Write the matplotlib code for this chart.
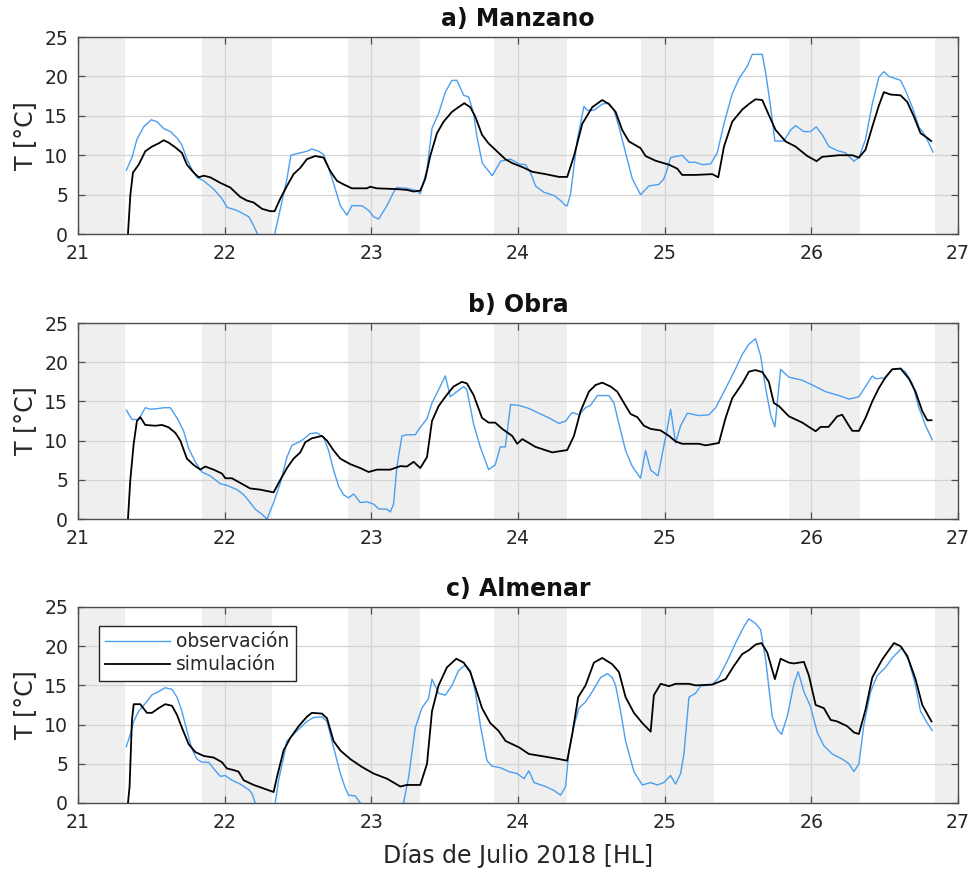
import matplotlib
matplotlib.use("Agg")
import matplotlib.pyplot as plt

# ---------------- data: day of July 2018 (local time) and temperature [°C] ----------------
# Night periods (sunset -> sunrise)
sunrise = [21.32, 22.32, 23.33, 24.335, 25.335, 26.335]
sunset = [21.845, 22.84, 23.835, 24.84, 25.845, 26.845]

# a) Manzano
t_obs_a = [21.330, 21.368, 21.402, 21.448, 21.500, 21.539, 21.584, 21.630, 21.675, 21.709,
           21.743, 21.777, 21.811, 21.857, 21.925, 21.982, 22.016, 22.084, 22.164, 22.186,
           22.225, 22.280, 22.341, 22.380, 22.425, 22.452, 22.493, 22.561, 22.595, 22.641,
           22.675, 22.720, 22.755, 22.789, 22.834, 22.868, 22.936, 22.982, 23.016, 23.050,
           23.107, 23.152, 23.175, 23.243, 23.311, 23.334, 23.380, 23.414, 23.459, 23.505,
           23.550, 23.584, 23.630, 23.664, 23.698, 23.720, 23.757, 23.825, 23.882, 23.950,
           24.007, 24.052, 24.086, 24.120, 24.177, 24.245, 24.291, 24.325, 24.336, 24.359,
           24.405, 24.450, 24.473, 24.518, 24.575, 24.620, 24.655, 24.689, 24.734, 24.780,
           24.836, 24.893, 24.961, 24.995, 25.018, 25.041, 25.120, 25.166, 25.211, 25.257,
           25.314, 25.359, 25.405, 25.461, 25.507, 25.564, 25.598, 25.666, 25.689, 25.723,
           25.752, 25.814, 25.859, 25.893, 25.950, 25.995, 26.034, 26.075, 26.120, 26.177,
           26.234, 26.291, 26.325, 26.370, 26.416, 26.461, 26.495, 26.530, 26.609, 26.643,
           26.689, 26.734, 26.780, 26.830]
T_obs_a = [8.1, 9.7, 12.0, 13.6, 14.5, 14.25, 13.4, 13.0, 12.2, 11.3,
           9.5, 8.2, 7.2, 6.75, 5.7, 4.5, 3.4, 3.0, 2.2, 1.5,
           0.0, -1.5, 0.0, 3.2, 7.0, 10.0, 10.2, 10.5, 10.8, 10.5,
           10.1, 7.8, 5.7, 3.6, 2.4, 3.6, 3.6, 3.0, 2.2, 1.9,
           3.6, 5.3, 5.9, 5.8, 5.5, 5.1, 8.2, 13.4, 15.3, 18.0,
           19.5, 19.5, 17.6, 17.4, 15.3, 12.4, 9.0, 7.4, 9.25, 9.5,
           8.9, 8.8, 7.8, 6.1, 5.3, 4.9, 4.25, 3.6, 3.6, 5.1,
           12.0, 16.2, 15.7, 15.7, 16.5, 16.6, 15.7, 13.6, 10.3, 7.0,
           5.0, 6.1, 6.3, 7.0, 8.2, 9.7, 10.0, 9.1, 9.1, 8.8,
           8.9, 10.3, 14.0, 17.8, 19.7, 21.3, 22.8, 22.8, 20.5, 16.1,
           11.8, 11.8, 13.2, 13.75, 13.0, 13.0, 13.6, 12.6, 11.1, 10.6,
           10.3, 9.25, 9.7, 12.0, 16.5, 19.9, 20.6, 20.0, 19.5, 18.2,
           16.1, 13.6, 12.4, 10.4]

t_sim_a = [21.341, 21.357, 21.375, 21.414, 21.459, 21.505, 21.550, 21.584, 21.618, 21.664,
           21.709, 21.743, 21.789, 21.823, 21.857, 21.902, 21.970, 22.039, 22.107, 22.152,
           22.198, 22.255, 22.311, 22.341, 22.380, 22.425, 22.470, 22.516, 22.561, 22.618,
           22.675, 22.720, 22.766, 22.811, 22.868, 22.970, 22.993, 23.039, 23.175, 23.243,
           23.289, 23.334, 23.368, 23.402, 23.448, 23.493, 23.550, 23.595, 23.634, 23.675,
           23.709, 23.755, 23.800, 23.857, 23.914, 23.961, 24.030, 24.098, 24.189, 24.280,
           24.336, 24.382, 24.439, 24.507, 24.575, 24.620, 24.666, 24.711, 24.757, 24.836,
           24.870, 24.939, 25.030, 25.086, 25.120, 25.211, 25.325, 25.366, 25.405, 25.461,
           25.530, 25.575, 25.620, 25.666, 25.711, 25.757, 25.825, 25.893, 25.973, 26.036,
           26.075, 26.189, 26.280, 26.325, 26.370, 26.416, 26.461, 26.495, 26.541, 26.609,
           26.655, 26.700, 26.745, 26.791, 26.818]
T_sim_a = [0.0, 4.9, 7.8, 8.8, 10.5, 11.1, 11.5, 11.9, 11.6, 11.0,
           10.3, 8.8, 7.8, 7.2, 7.4, 7.2, 6.5, 5.9, 4.7, 4.25,
           4.0, 3.2, 2.9, 2.9, 4.5, 6.1, 7.6, 8.4, 9.5, 9.9,
           9.7, 8.0, 6.75, 6.3, 5.8, 5.8, 6.0, 5.8, 5.7, 5.6,
           5.4, 5.5, 7.0, 9.9, 12.8, 14.25, 15.5, 16.1, 16.6, 16.1,
           14.9, 12.6, 11.5, 10.5, 9.5, 9.0, 8.5, 7.9, 7.6, 7.25,
           7.25, 9.9, 14.0, 16.1, 17.0, 16.5, 15.5, 13.2, 11.75, 10.9,
           9.9, 9.3, 8.8, 8.3, 7.5, 7.5, 7.6, 7.2, 11.1, 14.25,
           15.8, 16.5, 17.1, 17.0, 15.1, 13.2, 11.75, 11.1, 9.9, 9.25,
           9.8, 10.0, 10.0, 9.7, 10.7, 13.6, 16.3, 18.0, 17.7, 17.6,
           16.75, 14.9, 12.8, 12.2, 11.8]

# b) Obra
t_obs_b = [21.330, 21.368, 21.414, 21.459, 21.493, 21.550, 21.584, 21.630, 21.675, 21.720,
           21.755, 21.800, 21.845, 21.902, 21.970, 22.016, 22.084, 22.130, 22.175, 22.209,
           22.255, 22.289, 22.334, 22.380, 22.425, 22.459, 22.505, 22.539, 22.584, 22.630,
           22.675, 22.709, 22.743, 22.777, 22.811, 22.845, 22.880, 22.925, 22.970, 23.016,
           23.050, 23.107, 23.130, 23.152, 23.175, 23.209, 23.243, 23.300, 23.334, 23.380,
           23.414, 23.459, 23.505, 23.539, 23.584, 23.630, 23.652, 23.698, 23.743, 23.800,
           23.845, 23.880, 23.914, 23.950, 24.007, 24.075, 24.143, 24.211, 24.280, 24.325,
           24.370, 24.416, 24.461, 24.495, 24.541, 24.620, 24.655, 24.689, 24.734, 24.780,
           24.836, 24.870, 24.905, 24.955, 24.980, 25.018, 25.041, 25.075, 25.109, 25.155,
           25.234, 25.302, 25.348, 25.405, 25.473, 25.530, 25.575, 25.620, 25.655, 25.689,
           25.723, 25.752, 25.791, 25.848, 25.939, 26.007, 26.098, 26.189, 26.257, 26.325,
           26.370, 26.416, 26.439, 26.507, 26.552, 26.609, 26.643, 26.689, 26.734, 26.780,
           26.825]
T_obs_b = [13.9, 12.7, 12.7, 14.2, 14.0, 14.1, 14.2, 14.2, 12.9, 11.25,
           9.0, 7.3, 6.0, 5.5, 4.5, 4.3, 3.75, 3.1, 2.1, 1.25,
           0.6, 0.0, 2.1, 4.6, 7.9, 9.4, 9.8, 10.2, 10.9, 11.0,
           10.4, 8.75, 6.25, 4.2, 3.1, 2.7, 3.2, 2.1, 2.2, 1.9,
           1.3, 1.25, 0.9, 1.9, 6.7, 10.6, 10.75, 10.75, 11.7, 12.8,
           14.8, 16.5, 18.25, 15.6, 16.25, 16.9, 16.5, 12.1, 9.2, 6.3,
           6.9, 9.2, 9.2, 14.6, 14.5, 14.1, 13.5, 12.9, 12.2, 12.5,
           13.6, 13.3, 14.2, 14.5, 15.75, 15.75, 14.8, 12.1, 8.75, 6.7,
           5.2, 8.75, 6.25, 5.5, 7.9, 11.5, 14.0, 9.7, 11.9, 13.5,
           13.2, 13.3, 14.2, 16.25, 18.75, 21.0, 22.3, 23.0, 20.8, 16.7,
           13.3, 11.75, 19.1, 18.1, 17.7, 17.1, 16.25, 15.75, 15.3, 15.6,
           16.9, 18.25, 17.9, 18.0, 19.1, 19.2, 18.75, 17.3, 14.2, 11.9,
           10.1]

t_sim_b = [21.341, 21.357, 21.380, 21.402, 21.425, 21.459, 21.527, 21.573, 21.618, 21.664,
           21.698, 21.743, 21.789, 21.834, 21.868, 21.925, 21.982, 22.005, 22.050, 22.107,
           22.175, 22.243, 22.334, 22.380, 22.425, 22.470, 22.516, 22.550, 22.595, 22.664,
           22.698, 22.743, 22.789, 22.857, 22.925, 22.982, 23.039, 23.130, 23.198, 23.243,
           23.289, 23.334, 23.380, 23.414, 23.459, 23.505, 23.561, 23.618, 23.652, 23.698,
           23.755, 23.800, 23.845, 23.893, 23.961, 23.995, 24.030, 24.120, 24.234, 24.336,
           24.382, 24.427, 24.484, 24.530, 24.575, 24.632, 24.677, 24.723, 24.768, 24.814,
           24.859, 24.905, 24.973, 25.030, 25.075, 25.120, 25.234, 25.280, 25.370, 25.416,
           25.461, 25.530, 25.575, 25.620, 25.666, 25.711, 25.745, 25.780, 25.848, 25.939,
           26.030, 26.064, 26.118, 26.177, 26.211, 26.257, 26.280, 26.325, 26.370, 26.416,
           26.461, 26.507, 26.552, 26.609, 26.666, 26.711, 26.757, 26.791, 26.820]
T_sim_b = [0.0, 5.0, 9.6, 12.5, 13.0, 12.0, 11.9, 12.0, 11.7, 11.0,
           10.0, 7.7, 6.9, 6.3, 6.7, 6.3, 5.8, 5.2, 5.2, 4.6,
           3.9, 3.75, 3.4, 5.0, 6.5, 7.7, 8.5, 9.8, 10.3, 10.6,
           10.0, 8.75, 7.7, 7.0, 6.5, 6.0, 6.3, 6.3, 6.75, 6.7,
           7.3, 6.5, 7.9, 12.5, 14.4, 15.6, 16.9, 17.5, 17.3, 15.8,
           12.9, 12.3, 12.3, 11.5, 10.6, 9.6, 10.2, 9.2, 8.5, 8.8,
           10.6, 13.75, 16.25, 17.1, 17.4, 16.9, 16.25, 14.8, 13.4, 13.0,
           11.9, 11.5, 11.3, 10.6, 9.9, 9.6, 9.6, 9.4, 9.7, 12.9,
           15.4, 17.3, 18.8, 19.0, 18.75, 17.5, 14.8, 14.4, 13.1, 12.3,
           11.2, 11.75, 11.75, 13.1, 13.3, 11.9, 11.25, 11.25, 12.9, 15.0,
           16.7, 18.1, 19.1, 19.2, 17.9, 16.25, 13.75, 12.6, 12.6]

# c) Almenar
t_obs_c = [21.330, 21.357, 21.380, 21.414, 21.459, 21.505, 21.550, 21.595, 21.641, 21.675,
           21.709, 21.743, 21.777, 21.811, 21.845, 21.891, 21.925, 21.970, 22.005, 22.050,
           22.107, 22.164, 22.186, 22.209, 22.280, 22.345, 22.368, 22.402, 22.425, 22.470,
           22.516, 22.561, 22.607, 22.664, 22.698, 22.743, 22.789, 22.823, 22.845, 22.890,
           22.925, 23.070, 23.220, 23.255, 23.300, 23.345, 23.390, 23.414, 23.459, 23.505,
           23.550, 23.595, 23.641, 23.675, 23.709, 23.743, 23.789, 23.823, 23.880, 23.939,
           23.995, 24.041, 24.075, 24.110, 24.189, 24.245, 24.291, 24.325, 24.348, 24.382,
           24.416, 24.461, 24.507, 24.564, 24.610, 24.643, 24.666, 24.700, 24.734, 24.791,
           24.848, 24.905, 24.950, 24.995, 25.041, 25.075, 25.109, 25.132, 25.166, 25.211,
           25.245, 25.325, 25.370, 25.427, 25.484, 25.541, 25.575, 25.620, 25.655, 25.689,
           25.734, 25.768, 25.798, 25.836, 25.882, 25.911, 25.950, 25.995, 26.041, 26.086,
           26.143, 26.211, 26.257, 26.291, 26.325, 26.359, 26.405, 26.450, 26.507, 26.552,
           26.620, 26.666, 26.711, 26.745, 26.791, 26.825]
T_obs_c = [7.2, 8.75, 10.4, 11.7, 12.7, 13.8, 14.2, 14.7, 14.5, 13.5,
           11.7, 9.2, 6.9, 5.6, 5.2, 5.2, 4.4, 3.4, 3.5, 2.9,
           2.4, 1.7, 1.25, 0.0, -1.5, 0.0, 2.9, 5.8, 7.9, 8.75,
           9.6, 10.4, 10.9, 11.0, 10.4, 7.1, 3.75, 1.9, 1.0, 0.9,
           0.0, -2.0, 0.0, 3.3, 9.6, 12.1, 13.3, 15.8, 14.0, 13.75,
           15.0, 16.9, 17.6, 16.9, 14.2, 10.0, 5.4, 4.7, 4.5, 4.0,
           3.75, 3.1, 4.1, 2.6, 2.1, 1.6, 1.0, 2.1, 6.7, 9.8,
           12.1, 12.9, 14.2, 16.0, 16.5, 16.0, 15.0, 11.7, 7.9, 4.0,
           2.3, 2.6, 2.3, 2.6, 3.5, 2.4, 3.75, 6.25, 13.5, 14.0,
           14.9, 15.1, 16.0, 18.1, 20.4, 22.5, 23.5, 22.9, 22.1, 18.3,
           11.0, 9.4, 8.75, 11.0, 15.2, 16.75, 14.2, 12.3, 9.0, 7.3,
           6.25, 5.6, 5.0, 4.0, 5.0, 10.0, 14.2, 16.25, 17.3, 18.5,
           19.8, 18.1, 15.0, 11.7, 10.2, 9.25]

t_sim_c = [21.341, 21.352, 21.368, 21.380, 21.425, 21.470, 21.505, 21.550, 21.595, 21.641,
           21.675, 21.709, 21.755, 21.800, 21.857, 21.925, 21.982, 22.016, 22.061, 22.095,
           22.130, 22.198, 22.289, 22.334, 22.357, 22.402, 22.448, 22.505, 22.561, 22.595,
           22.664, 22.698, 22.743, 22.789, 22.857, 22.936, 23.016, 23.107, 23.198, 23.243,
           23.334, 23.380, 23.414, 23.459, 23.516, 23.580, 23.630, 23.675, 23.709, 23.755,
           23.811, 23.868, 23.916, 24.007, 24.075, 24.189, 24.280, 24.336, 24.370, 24.411,
           24.461, 24.518, 24.575, 24.643, 24.689, 24.734, 24.791, 24.848, 24.905, 24.927,
           24.973, 25.030, 25.075, 25.166, 25.211, 25.325, 25.416, 25.473, 25.530, 25.575,
           25.620, 25.661, 25.700, 25.752, 25.791, 25.848, 25.882, 25.950, 25.984, 26.030,
           26.086, 26.132, 26.177, 26.245, 26.291, 26.325, 26.370, 26.416, 26.484, 26.518,
           26.564, 26.609, 26.655, 26.711, 26.757, 26.820]
T_sim_c = [0.0, 2.1, 10.5, 12.6, 12.6, 11.5, 11.5, 12.1, 12.6, 12.4,
           11.25, 9.6, 7.5, 6.5, 6.0, 5.8, 5.2, 4.4, 4.2, 4.0,
           2.9, 2.3, 1.7, 1.4, 3.3, 6.7, 8.3, 9.8, 11.0, 11.5,
           11.4, 10.8, 7.9, 6.7, 5.6, 4.6, 3.75, 3.1, 2.1, 2.3,
           2.3, 5.0, 11.7, 15.0, 17.3, 18.4, 17.9, 16.7, 14.8, 12.1,
           10.2, 9.2, 7.9, 7.1, 6.25, 5.9, 5.6, 5.4, 8.75, 13.5,
           15.0, 17.9, 18.5, 17.7, 16.7, 13.5, 11.5, 10.2, 9.1, 13.75,
           15.2, 14.9, 15.2, 15.2, 15.0, 15.1, 15.8, 17.5, 19.0, 19.5,
           20.2, 20.4, 19.2, 15.8, 18.4, 17.9, 17.8, 18.0, 16.25, 12.5,
           12.1, 10.6, 10.4, 9.8, 9.0, 8.8, 11.9, 16.0, 18.3, 19.2,
           20.4, 20.0, 18.75, 15.8, 12.5, 10.4]

panels = [
    ("a) Manzano", t_obs_a, T_obs_a, t_sim_a, T_sim_a),
    ("b) Obra", t_obs_b, T_obs_b, t_sim_b, T_sim_b),
    ("c) Almenar", t_obs_c, T_obs_c, t_sim_c, T_sim_c),
]

x_ticks = [21, 22, 23, 24, 25, 26, 27]
y_ticks = [0, 5, 10, 15, 20, 25]

# ---------------- figure ----------------
plt.rcParams["font.family"] = ["DejaVu Sans"]
fig = plt.figure(figsize=(9.72, 8.71), dpi=100)

obs_color = "#4a9ff0"
txt_color = "#262626"
axis_color = "#4d4d4d"
night_color = "#efefef"

boxes = [
    [0.0802, 0.7313, 0.9053, 0.2262],
    [0.0802, 0.4041, 0.9053, 0.2250],
    [0.0802, 0.0781, 0.9053, 0.2250],
]

for box, (title, to, To, ts, Ts) in zip(boxes, panels):
    ax = fig.add_axes(box)
    # night shading
    edges = [x_ticks[0]] + sunset
    ends = sunrise + [x_ticks[-1]]
    for a, b in zip(edges, ends):
        ax.axvspan(a, b, color=night_color, lw=0, zorder=0.2)

    l_obs, = ax.plot(to, To, color=obs_color, lw=1.0, zorder=2, label="observación")
    l_sim, = ax.plot(ts, Ts, color="black", lw=1.3, zorder=3, label="simulación")

    ax.set_xlim(21, 27)
    ax.set_ylim(0, 25)
    ax.set_xticks(x_ticks)
    ax.set_yticks(y_ticks)
    ax.set_axisbelow(True)
    ax.grid(True, color="#d4d4d4", lw=0.9)
    ax.tick_params(direction="in", length=5, width=0.9, colors=axis_color,
                   labelcolor=txt_color, labelsize=13.6, top=True, right=True)
    ax.tick_params(axis="x", pad=7)
    ax.tick_params(axis="y", pad=7)
    for s in ax.spines.values():
        s.set_color(axis_color)
        s.set_linewidth(1.0)
    ax.set_ylabel("T [°C]", fontsize=17, color=txt_color, labelpad=5)
    ax.set_title(title, fontsize=17, fontweight="bold", color="#111111", pad=8)

ax.set_xlabel("Días de Julio 2018 [HL]", fontsize=17, color=txt_color, labelpad=8)
leg = ax.legend(handles=[l_obs, l_sim], loc="upper left", bbox_to_anchor=(0.0235, 0.905),
                fontsize=13.4, frameon=True, fancybox=False, framealpha=1,
                edgecolor="#262626", handlelength=3.5, handletextpad=0.3,
                borderpad=0.35, labelspacing=0.22, borderaxespad=0)
leg.get_frame().set_linewidth(1.0)
for t in leg.get_texts():
    t.set_color(txt_color)

fig.savefig("out.png", dpi=100)
